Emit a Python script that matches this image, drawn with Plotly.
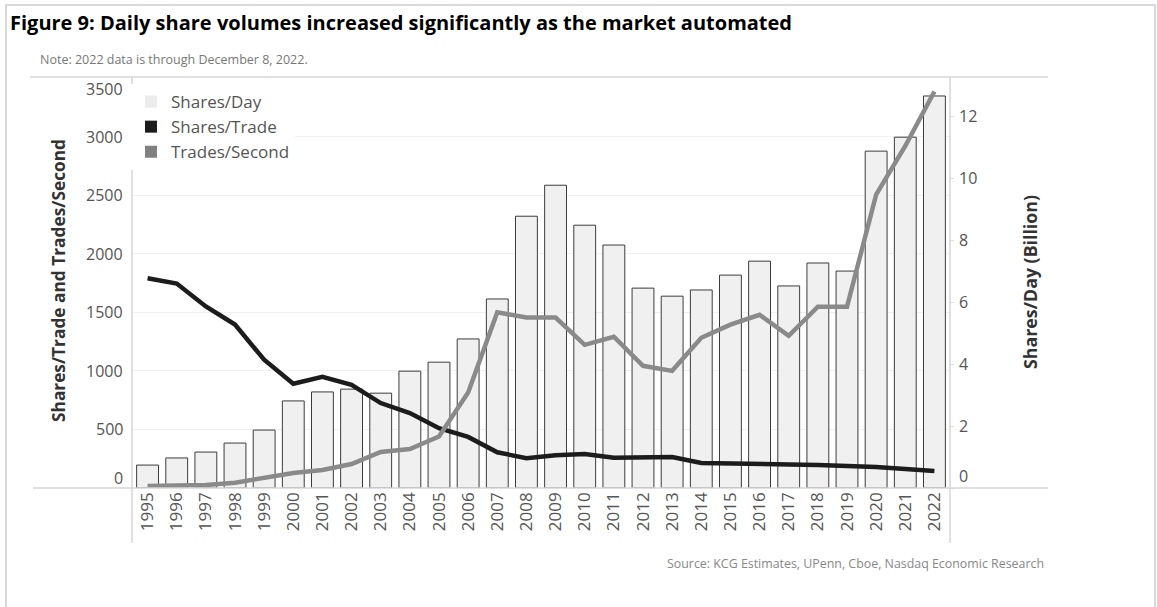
import plotly.graph_objects as go

years = [str(y) for y in range(1995, 2023)]
shares_day_bn = [0.74, 0.97, 1.16, 1.45, 1.87, 2.81, 3.10, 3.19, 3.06, 3.77, 4.06, 4.81, 6.10, 8.77,
                 9.77, 8.48, 7.84, 6.45, 6.19, 6.39, 6.87, 7.32, 6.52, 7.26, 7.00, 10.87, 11.32, 12.65]
shares_per_trade = [1790, 1745, 1550, 1395, 1095, 890, 950, 880, 725, 640, 510, 436, 305, 255,
                    280, 290, 258, 258, 265, 214, 210, 212, 210, 197, 188, 180, 162, 145]
trades_per_sec = [17, 20, 25, 45, 85, 128, 154, 205, 308, 333, 440, 815, 1500, 1455,
                  1455, 1222, 1291, 1043, 1000, 1282, 1395, 1479, 1299, 1547, 1547, 2504, 2920, 3385]
left_ticks = [0, 500, 1000, 1500, 2000, 2500, 3000, 3500]
right_ticks = [0, 2, 4, 6, 8, 10, 12]

W, H = 1157, 607
L, R, T, B = 133, 949, 78, 488
pw, ph = R - L, B - T


def px(x):
    return (x - L) / pw


def py(y):
    return (B - y) / ph


fig = go.Figure()
fig.add_trace(go.Bar(x=years, y=shares_day_bn, yaxis="y", width=0.75,
                     marker=dict(color="#f0f0f0", line=dict(color="#3c3c3c", width=1)),
                     showlegend=False, name="Shares/Day"))
fig.add_trace(go.Scatter(x=years, y=shares_per_trade, yaxis="y2", mode="lines",
                         line=dict(color="#1c1c1c", width=4.5), showlegend=False, name="Shares/Trade"))
fig.add_trace(go.Scatter(x=years, y=trades_per_sec, yaxis="y2", mode="lines",
                         line=dict(color="#8a8a8a", width=4.5), showlegend=False, name="Trades/Second"))

for name, col in [("Shares/Day", "#ececec"), ("Shares/Trade", "#1c1c1c"), ("Trades/Second", "#808080")]:
    fig.add_trace(go.Scatter(x=[None], y=[None], mode="markers", name=name,
                             marker=dict(symbol="square", size=13, color=col, line=dict(width=0))))

fig.update_layout(
    width=W, height=H,
    margin=dict(l=L, r=W - R, t=T, b=H - B, pad=0),
    paper_bgcolor="white", plot_bgcolor="rgba(0,0,0,0)",
    font=dict(family="Open Sans", color="#555"),
    xaxis=dict(type="category", range=[-0.5, 27.5], tickangle=-90, showgrid=False,
               showline=False, ticks="", tickfont=dict(size=17, color="#555")),
    yaxis=dict(side="right", range=[0, 13.23], tickvals=right_ticks, showgrid=False,
               zeroline=False, showline=False, ticks="outside", ticklen=4, tickcolor="#dddddd",
               showticklabels=False),
    yaxis2=dict(side="left", overlaying="y", range=[0, 3500], tickvals=left_ticks,
                showgrid=True, gridcolor="#f0f0f0", gridwidth=1, zeroline=False, showline=False,
                ticks="", showticklabels=False),
    legend=dict(x=px(131), y=py(84), xanchor="left", yanchor="top", bgcolor="white",
                font=dict(size=17, color="#555", family="Open Sans"), itemsizing="constant",
                tracegroupgap=0),
    bargap=0.25,
)

line_col = "#d6d6d6"
shapes = [
    dict(type="line", xref="paper", yref="paper", x0=px(30), x1=px(1048), y0=py(77), y1=py(77),
         line=dict(color=line_col, width=1.5)),
    dict(type="line", xref="paper", yref="paper", x0=px(33), x1=px(1048), y0=py(488), y1=py(488),
         line=dict(color=line_col, width=1.5)),
    dict(type="line", xref="paper", yref="paper", x0=px(132), x1=px(132), y0=py(77), y1=py(543),
         line=dict(color=line_col, width=1.5)),
    dict(type="line", xref="paper", yref="paper", x0=px(950), x1=px(950), y0=py(77), y1=py(543),
         line=dict(color=line_col, width=1.5)),
    dict(type="rect", xref="paper", yref="paper", x0=px(6), x1=px(1155), y0=py(5), y1=py(640),
         line=dict(color="#d9d9d9", width=2)),
]
fig.update_layout(shapes=shapes)

annotations = [
    dict(text="<b>Figure 9: Daily share volumes increased significantly as the market automated</b>",
         x=px(8), y=py(22), xref="paper", yref="paper", xanchor="left", yanchor="middle",
         showarrow=False, font=dict(family="Open Sans", size=20, color="#000")),
    dict(text="Note: 2022 data is through December 8, 2022.",
         x=px(38), y=py(60), xref="paper", yref="paper", xanchor="left", yanchor="middle",
         showarrow=False, font=dict(family="Open Sans", size=12.5, color="#777")),
    dict(text="Source: KCG Estimates, UPenn, Cboe, Nasdaq Economic Research",
         x=px(1046), y=py(563), xref="paper", yref="paper", xanchor="right", yanchor="middle",
         showarrow=False, font=dict(family="Open Sans", size=12.4, color="#888")),
    dict(text="<b>Shares/Trade and Trades/Second</b>", textangle=-90,
         x=px(58), y=py(281), xref="paper", yref="paper", xanchor="center", yanchor="middle",
         showarrow=False, font=dict(family="Open Sans", size=17.3, color="#333")),
    dict(text="<b>Shares/Day (Billion)</b>", textangle=-90,
         x=px(1030), y=py(282), xref="paper", yref="paper", xanchor="center", yanchor="middle",
         showarrow=False, font=dict(family="Open Sans", size=17.8, color="#333")),
]

# left tick labels (edge labels nudged inward as in the reference)
for v in left_ticks:
    shift = 10 if v == left_ticks[0] else (-11 if v == left_ticks[-1] else 0)
    annotations.append(dict(text=str(v), x=px(125), y=v, xref="paper", yref="y2",
                            xanchor="right", yanchor="middle", yshift=shift, showarrow=False,
                            font=dict(family="Open Sans", size=16, color="#555")))
# right tick labels
for v in right_ticks:
    shift = 12 if v == right_ticks[0] else 0
    annotations.append(dict(text=str(v), x=px(957), y=v, xref="paper", yref="y",
                            xanchor="left", yanchor="middle", yshift=shift, showarrow=False,
                            font=dict(family="Open Sans", size=16, color="#555")))
fig.update_layout(annotations=annotations)

fig.write_html("out.html")
